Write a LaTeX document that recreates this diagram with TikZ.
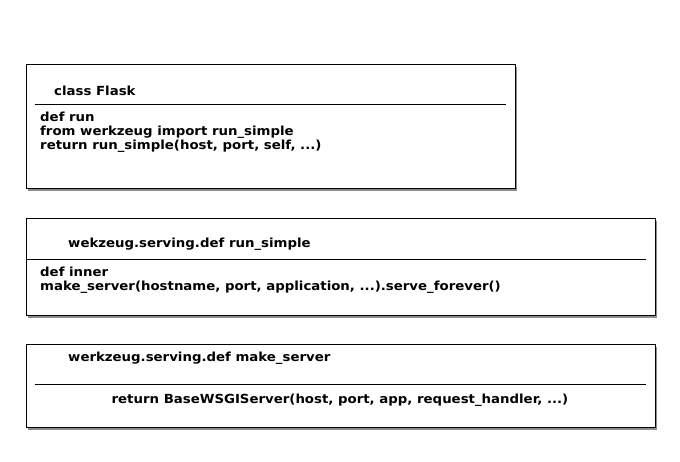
\documentclass[tikz,border=0pt]{standalone}
\usepackage{fontspec}
\setmainfont{DejaVu Sans}[FakeStretch=1.065]
\usetikzlibrary{shadows}
\begin{document}
\begin{tikzpicture}[x=1pt,y=-1pt,
  box/.style={draw=black,line width=0.9pt,fill=white,
    drop shadow={shadow xshift=2pt,shadow yshift=-2.5pt,fill=black,opacity=0.45}},
  divider/.style={line width=0.8pt},
  txt/.style={anchor=base west,inner sep=0pt,font=\bfseries\fontsize{12.5}{13.5}\selectfont},
  body/.style={txt,align=left}]
\useasboundingbox (0,0) rectangle (680,462);
% box 1
\node[box,minimum width=489pt,minimum height=124pt,anchor=north west,inner sep=0pt] (b1) at (26,64) {};
\coordinate (d1a) at (35,104.5);
\coordinate (d1b) at (506,104.5);
\draw[divider] (d1a) -- (d1b);
\node[txt] (t1) at (54,95.5) {class Flask};
\node[txt] (l1a) at (40,122) {def run};
\node[txt] (l1b) at (40,136) {from werkzeug import run\_simple};
\node[txt] (l1c) at (40,150) {return run\_simple(host, port, self, ...)};
% box 2
\node[box,minimum width=629pt,minimum height=97pt,anchor=north west,inner sep=0pt] (b2) at (26,218) {};
\coordinate (d2a) at (26,259.5);
\coordinate (d2b) at (646,259.5);
\draw[divider] (d2a) -- (d2b);
\node[txt] (t2) at (68,248) {wekzeug.serving.def run\_simple};
\node[txt] (l2a) at (40,277) {def inner};
\node[txt] (l2b) at (40,291) {make\_server(hostname, port, application, ...).serve\_forever()};
% box 3
\node[box,minimum width=629pt,minimum height=83pt,anchor=north west,inner sep=0pt] (b3) at (26,344) {};
\coordinate (d3a) at (35,384.5);
\coordinate (d3b) at (646,384.5);
\draw[divider] (d3a) -- (d3b);
\node[txt] (t3) at (68,361) {werkzeug.serving.def make\_server};
\node[txt,anchor=base] (l3) at (340,403) {return BaseWSGIServer(host, port, app, request\_handler, ...)};
\end{tikzpicture}
\end{document}
